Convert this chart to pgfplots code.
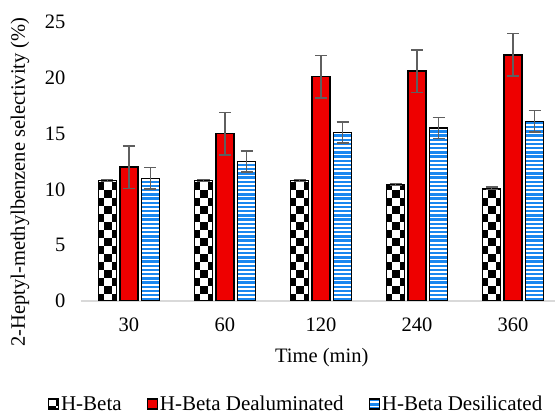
\documentclass[border=0pt]{standalone}
\usepackage{pgfplots}
\pgfplotsset{compat=1.18}
\usepackage{fontspec}
\setmainfont{Liberation Serif}
\usetikzlibrary{patterns.meta}
\definecolor{barred}{RGB}{238,0,0}
\definecolor{stripeblue}{RGB}{25,135,240}
\definecolor{errgray}{RGB}{95,95,95}
\definecolor{axisgray}{RGB}{217,217,217}
\tikzdeclarepattern{
  name=bigcheck,
  type=uncolored,
  bottom left={(-0.1pt,-0.1pt)},
  top right={(16.1pt,16.1pt)},
  tile size={(16pt,16pt)},
  code={\fill (0pt,0pt) rectangle (8pt,8pt); \fill (8pt,8pt) rectangle (16pt,16pt);}
}
\tikzdeclarepattern{
  name=hstripes,
  type=uncolored,
  bottom left={(-0.1pt,0pt)},
  top right={(10.1pt,4.2pt)},
  tile size={(10pt,4.2pt)},
  code={\fill (-0.1pt,0pt) rectangle (10.1pt,2.4pt);}
}
\begin{document}
\begin{tikzpicture}[font=\fontsize{20.5}{24}\selectfont]
\begin{axis}[
  name=ax,
  scale only axis,
  width=474pt, height=279pt,
  ymin=0, ymax=25,
  xmin=-0.5, xmax=4.4375,
  ytick={0,5,10,15,20,25},
  xtick={0,1,2,3,4},
  xticklabels={30,60,120,240,360},
  /pgf/number format/assume math mode=true,
  axis lines*=left,
  y axis line style={draw=none},
  x axis line style={draw=axisgray, line width=1.3pt},
  major tick length=0pt,
  tick style={draw=none},
  xticklabel style={yshift=-13pt},
  yticklabel style={xshift=-12pt},
  ybar=3.5pt,
  bar width=18pt,
  xlabel={Time (min)},
  ylabel={2-Heptyl-methylbenzene selectivity (\%)},
  xlabel style={at={(axis description cs:0.508,-0.204)}, anchor=center},
  ylabel style={at={(axis description cs:-0.129,0.4265)}, anchor=center},
  legend style={at={(axis description cs:0.4536,-0.369)}, anchor=center, draw=none,
    font=\fontsize{21}{24}\selectfont,
    /tikz/every even column/.append style={column sep=23pt}},
  legend columns=3,
  legend image code/.code={\draw[#1] (0pt,-5pt) rectangle (10pt,5pt);},
  error bars/y dir=both,
  error bars/y explicit,
  error bars/error bar style={draw=errgray, line width=1.5pt},
  error bars/error mark options={draw=errgray, line width=1.5pt, mark size=6pt, rotate=90},
]
\addplot+[draw=black, line width=1.3pt, preaction={fill=white}, pattern=bigcheck, pattern color=black, mark=none]
  coordinates {(0,10.8) +- (0,0.1) (1,10.8) +- (0,0.1) (2,10.8) +- (0,0.1) (3,10.45) +- (0,0.1) (4,10.1) +- (0,0.1)};
\addplot+[draw=black, line width=1.3pt, fill=barred, mark=none]
  coordinates {(0,12.0) +- (0,1.9) (1,15.0) +- (0,1.9) (2,20.1) +- (0,1.9) (3,20.6) +- (0,1.9) (4,22.05) +- (0,1.9)};
\addplot+[draw=black, line width=1.3pt, preaction={fill=white}, pattern=hstripes, pattern color=stripeblue, mark=none]
  coordinates {(0,11.0) +- (0,0.95) (1,12.5) +- (0,0.95) (2,15.1) +- (0,0.95) (3,15.5) +- (0,0.95) (4,16.1) +- (0,0.95)};
\legend{H-Beta, H-Beta Dealuminated, H-Beta Desilicated}
\end{axis}
\pgfresetboundingbox
\path (ax.south west) ++(-81pt,-113pt) rectangle ++(555pt,414pt);
\end{tikzpicture}
\end{document}
